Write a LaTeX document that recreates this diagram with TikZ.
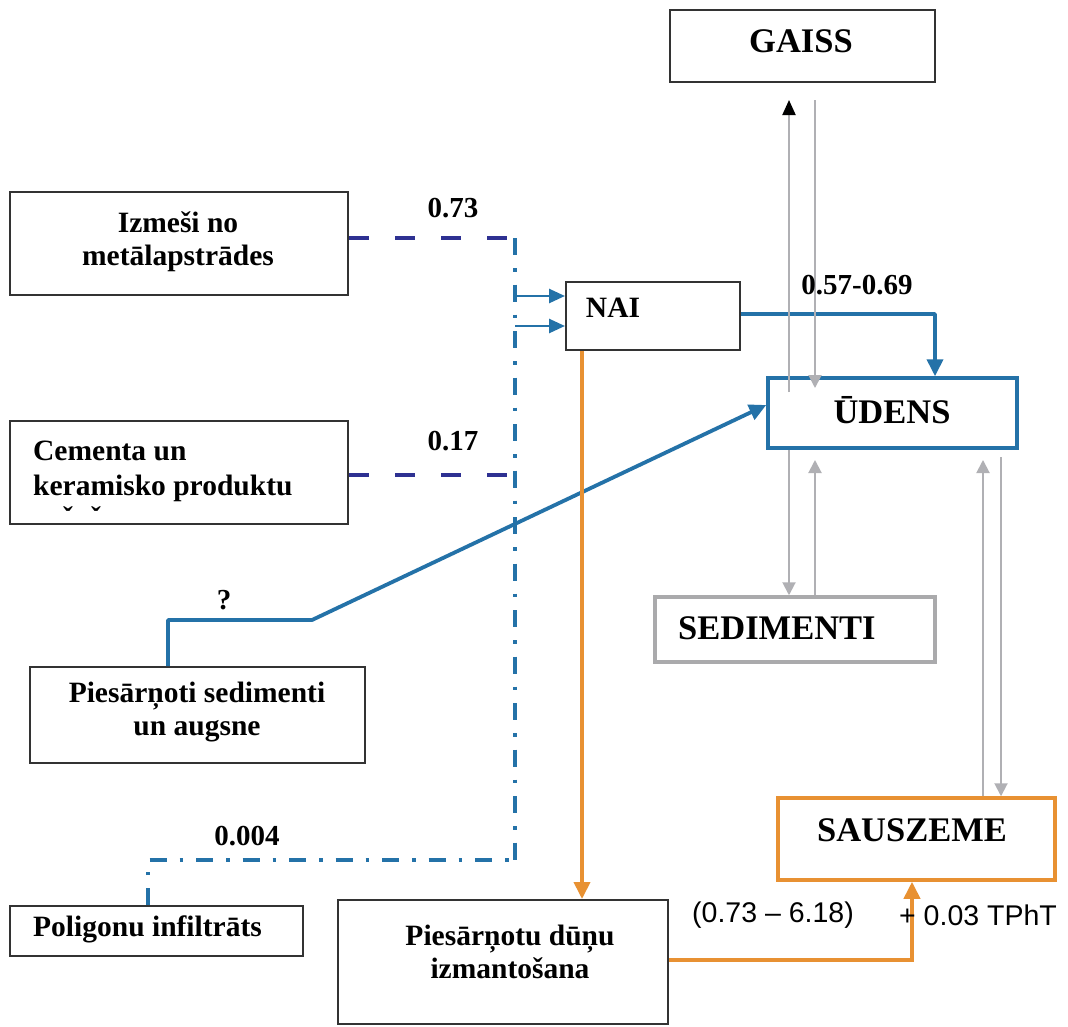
\documentclass[tikz,border=0pt]{standalone}
\usepackage{fontspec}
\setmainfont{Liberation Serif}
\newfontfamily\sansf{Liberation Sans}
\usetikzlibrary{arrows.meta}
\definecolor{navy}{RGB}{46,49,146}
\definecolor{flowblue}{RGB}{36,114,168}
\definecolor{flowor}{RGB}{232,145,50}
\definecolor{linegray}{RGB}{176,176,180}
\definecolor{boxgray}{RGB}{170,170,172}
\tikzset{
  box/.style={draw=black!80, line width=2pt, inner sep=0pt, rectangle},
  bluebox/.style={box, draw=flowblue, line width=3.5pt},
  orbox/.style={box, draw=flowor, line width=3.5pt},
  graybox/.style={box, draw=boxgray, line width=3.5pt},
  txt/.style={inner sep=0pt, align=center, font=\bfseries\fontsize{29.5}{33}\selectfont},
  bigtxt/.style={inner sep=0pt, font=\bfseries\fontsize{34.5}{38}\selectfont},
  num/.style={inner sep=0pt, font=\bfseries\fontsize{29}{32}\selectfont},
  snum/.style={inner sep=0pt, font=\sansf\fontsize{28.5}{31}\selectfont},
  navydash/.style={draw=navy, line width=4pt, dash pattern=on 20pt off 26pt},
  dashdot/.style={draw=flowblue, line width=4pt, dash pattern=on 17pt off 13pt on 3.5pt off 13pt},
  flow/.style={draw=flowblue, line width=3.8pt, line join=round, -{Triangle[length=17pt,width=16pt]}},
  thinflow/.style={draw=flowblue, line width=2.6pt, -{Triangle[length=16pt,width=14pt]}},
  oflow/.style={draw=flowor, line width=3.8pt, -{Triangle[length=17pt,width=16pt]}},
  grayflow/.style={draw=linegray, line width=2pt, -{Triangle[length=13pt,width=13pt]}},
  blackflow/.style={draw=linegray, line width=2pt, -{Triangle[length=15pt,width=13pt,color=black]}},
}
\begin{document}
\begin{tikzpicture}[x=1pt, y={(0pt,-1pt)}]
\useasboundingbox (0,0) rectangle (1068,1026);
\fill[white] (0,0) rectangle (1068,1026);

% boxes
\node[box, minimum width=265pt, minimum height=72pt] (gaiss) at (802.5,46) {};
\node[box, minimum width=338pt, minimum height=103pt] (izm) at (179,243.5) {};
\node[box, minimum width=174pt, minimum height=68pt] (nai) at (653,316) {};
\node[bluebox, minimum width=249pt, minimum height=70pt] (uden) at (892.5,413) {};
\node[box, minimum width=338pt, minimum height=103pt] (cem) at (179,472.5) {};
\node[graybox, minimum width=280pt, minimum height=65pt] (sed) at (795,629.5) {};
\node[box, minimum width=335pt, minimum height=96pt] (pies) at (197.5,715) {};
\node[orbox, minimum width=277pt, minimum height=82pt] (saus) at (916.5,839) {};
\node[box, minimum width=293pt, minimum height=50pt] (poli) at (156.5,931) {};
\node[box, minimum width=330pt, minimum height=124pt] (dunu) at (503,962) {};

% box texts
\node[bigtxt] (tgaiss) at (801,41) {GAISS};
\node[txt] (tizm) at (178,242) {Izmeši no\\metālapstrādes};
\node[txt] (tnai) at (613,308) {NAI};
\node[bigtxt] (tuden) at (892,410) {ŪDENS};
\node[txt, anchor=west] (tcem1) at (33,451) {Cementa un};
\node[txt, anchor=west] (tcem2) at (33,488) {keramisko produktu};
\node[txt] (car1) at (68,517) {ˇ};
\node[txt] (car2) at (96,517) {ˇ};
\node[bigtxt, anchor=west] (tsed) at (678,628) {SEDIMENTI};
\node[txt] (tpies) at (197,712) {Piesārņoti sedimenti\\un augsne};
\node[bigtxt] (tsaus) at (912,830) {SAUSZEME};
\node[txt, anchor=west] (tpoli) at (33,929) {Poligonu infiltrāts};
\node[txt] (tdunu) at (510,952) {Piesārņotu dūņu\\izmantošana};

% junction points
\coordinate (j1) at (515,238);
\coordinate (j2) at (515,296);
\coordinate (j3) at (515,326);
\coordinate (j4) at (515,475);
\coordinate (j5) at (515,860);
\coordinate (p1) at (148,860);
\coordinate (n1) at (935,314);
\coordinate (s1) at (168,620);
\coordinate (s2) at (312,620);
\coordinate (u1) at (768,405);
\coordinate (o1) at (582,350);
\coordinate (o2) at (912,960);
\coordinate (gA) at (789,392);
\coordinate (gB) at (789,100);
\coordinate (gC) at (815,100);
\coordinate (gD) at (815,388);
\coordinate (gE) at (815,460);
\coordinate (gF) at (983,460);
\coordinate (gG) at (1001,457);

% emission inputs to NAI
\draw[navydash] (izm.east |- j1) -- (j1);
\draw[navydash] (cem.east |- j4) -- (j4);
\draw[dashdot] (j1) -- (j5);
\draw[dashdot] (poli.north -| p1) -- (p1) -- (j5);
\draw[thinflow] (j2) -- (nai.west |- j2);
\draw[thinflow] (j3) -- (nai.west |- j3);

% NAI to water
\draw[flow] (nai.east |- n1) -- (n1) -- (uden.north -| n1);
% contaminated sediments to water
\draw[flow] (pies.north -| s1) -- (s1) -- (s2) -- (uden.west |- u1);
% sludge
\draw[oflow] (nai.south -| o1) -- (dunu.north -| o1);
\draw[oflow] (dunu.east |- o2) -- (o2) -- (saus.south -| o2);

% exchange between compartments
\draw[blackflow] (gA) -- (gB);
\draw[grayflow] (gC) -- (gD);
\draw[grayflow] (uden.south -| gA) -- (sed.north -| gA);
\draw[grayflow] (sed.north -| gE) -- (gE);
\draw[grayflow] (saus.north -| gF) -- (gF);
\draw[grayflow] (gG) -- (saus.north -| gG);

% flow values
\node[num] (l1) at (453,208) {0.73};
\node[num] (l2) at (453,441) {0.17};
\node[num] (l3) at (247,836) {0.004};
\node[num] (l4) at (857,285) {0.57-0.69};
\node[num] (l5) at (224,600) {?};
\node[snum] (l6) at (773,915) {(0.73 – 6.18)};
\node[snum, anchor=west] (l7) at (899,915) {+ 0.03 TPhT};
\end{tikzpicture}
\end{document}
